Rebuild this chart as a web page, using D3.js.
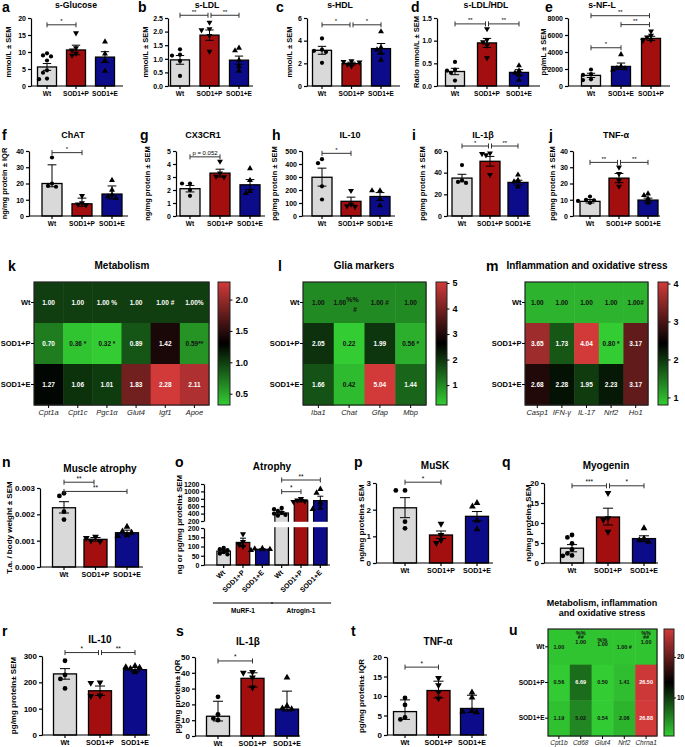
<!DOCTYPE html>
<html><head><meta charset="utf-8">
<script src="https://cdn.jsdelivr.net/npm/d3@7"></script>
<style>
body{margin:0;background:#fff}
svg text{font-family:"Liberation Sans",Arial,Helvetica,sans-serif}
</style></head><body>
<svg id="fig" width="685" height="747"></svg>
<script>
// ---------------- DATA ----------------
const groups3 = ["Wt","SOD1+P","SOD1+E"];
const groupsNfl = ["Wt","SOD1+E","SOD1+P"];
const fillColor = {"Wt":"#d9d9d9","SOD1+P":"#a30e0e","SOD1+E":"#0c0c8a"};
const symbolOf = {"Wt":"circle","SOD1+P":"down","SOD1+E":"up"};

// a s-Glucose
const glucoseMean=[5.6,10.6,8.5];
const glucoseErr=[[4.6,6.6],[9.2,12.0],[6.9,10.1]];
const glucosePts=[[9.6,9.0,8.7,7.5,4.6,3.9,2.2,2.0],[15.6,11.2,10.5,9.6,9.0],[13.0,9.5,7.5,4.4]];
const glucoseTicks=[0,5,10,15,20];
const glucoseSig=[["Wt","SOD1+P",18,"*"]];
// b s-LDL
const ldlMean=[0.96,1.87,0.95];
const ldlErr=[[0.8,1.12],[1.68,2.06],[0.8,1.1]];
const ldlPts=[[1.35,1.15,1.12,0.92,0.37],[2.34,2.1,2.06,1.85,1.27],[1.4,1.3,0.95,0.72,0.55]];
const ldlTicks=[0,0.5,1,1.5,2,2.5];
const ldlSig=[["Wt","SOD1+P",2.6,"**"],["SOD1+P","SOD1+E",2.6,"**"]];
// c s-HDL
const hdlMean=[3.15,1.98,3.3];
const hdlErr=[[2.8,3.5],[1.85,2.1],[2.85,3.75]];
const hdlPts=[[4.2,3.2,3.1,3.0,2.05],[2.2,2.15,2.1,1.9,1.75],[4.8,3.4,3.2,2.9,2.3]];
const hdlTicks=[0,2,4,6];
const hdlSig=[["Wt","SOD1+P",5.4,"*"],["SOD1+P","SOD1+E",5.4,"*"]];
// d s-LDL/HDL
const ratioMean=[0.32,0.95,0.30];
const ratioErr=[[0.25,0.39],[0.85,1.05],[0.24,0.36]];
const ratioPts=[[0.53,0.36,0.34,0.29,0.12],[1.26,1.02,0.97,0.9,0.62],[0.45,0.34,0.29,0.24,0.13]];
const ratioTicks=[0,0.5,1,1.5];
const ratioSig=[["Wt","SOD1+P",1.37,"**"],["SOD1+P","SOD1+E",1.37,"**"]];
// e s-NF-L (order Wt, SOD1+E, SOD1+P)
const nflMean=[1250,2300,5600];
const nflErr=[[1000,1500],[1950,2700],[5350,5850]];
const nflPts=[[1940,1400,1300,780,700],[3700,2300,2100,2060,1900],[6440,5940,5750,5440,5360]];
const nflTicks=[0,2000,4000,6000,8000];
const nflSig=[["Wt","SOD1+P",8270,"**"],["SOD1+E","SOD1+P",7220,"**"],["Wt","SOD1+E",4500,"*"]];
// f ChAT
const chatMean=[20,7.5,13.5];
const chatErr=[[18,31.5],[6,11],[10.5,18.5]];
const chatPts=[[36,20,18.5,18],[12.5,8,7.2,6.8],[22,16,13,12,11]];
const chatTicks=[0,10,20,30,40];
const chatSig=[["Wt","SOD1+P",39,"*"]];
// g CX3CR1
const cx3Mean=[2.1,3.3,2.4];
const cx3Err=[[1.85,2.35],[3.0,3.6],[2.05,2.8]];
const cx3Pts=[[2.5,2.5,2.0,1.55],[4.2,3.3,3.05,3.0],[3.65,2.75,1.9,1.75]];
const cx3Ticks=[0,1,2,3,4,5];
const cx3Sig=[["Wt","SOD1+P",4.55,"p = 0.052"]];
// h IL-10
const il10Mean=[298,113,150];
const il10Err=[[230,368],[85,145],[120,180]];
const il10Pts=[[437,406,228,127],[195,89,76,71],[195,195,130,80]];
const il10Ticks=[0,100,200,300,400,500];
const il10Sig=[["Wt","SOD1+P",482,"*"]];
// i IL-1b
const il1Mean=[35,50.5,31];
const il1Err=[[31.5,38.5],[46,55],[28.5,33]];
const il1Pts=[[47,33,31.5,30.5],[58,57.5,56.3,38],[38,33,31.7,27]];
const il1Ticks=[0,20,40,60];
const il1Sig=[["Wt","SOD1+P",64.6,"*"],["SOD1+P","SOD1+E",64.6,"**"]];
// j TNF-a
const tnfMean=[9,23.3,9.8];
const tnfErr=[[8,10.2],[20.5,26.2],[8.6,11]];
const tnfPts=[[12,10,9.7,9.3,8.1],[30,26,21.8,18.2],[13.7,12.7,10.7,8.1]];
const tnfTicks=[0,10,20,30,40];
const tnfSig=[["Wt","SOD1+P",33,"**"],["SOD1+P","SOD1+E",33,"**"]];
// k heatmap Metabolism
const hmRows=["Wt","SOD1+P","SOD1+E"];
const metabCols=["Cpt1a","Cpt1c","Pgc1α","Glut4","Igf1","Apoe"];
const metabVals=[[1,1,1,1,1,1],[0.70,0.36,0.32,0.89,1.42,0.59],[1.27,1.06,1.01,1.83,2.28,2.11]];
const metabMarks=[["",""," %",""," #","%"],[""," *"," *","","","**"],["","","","","",""]];
const metabTicks=[0.5,1.0,1.5,2.0];
// l heatmap Glia
const gliaCols=["Iba1","Chat","Gfap","Mbp"];
const gliaVals=[[1,1,1,1],[2.05,0.22,1.99,0.56],[1.66,0.42,5.04,1.44]];
const gliaMarks=[["",{sup:"%%",below:"#"}," #",""],["","",""," *"],["","","",""]];
const gliaTicks=[1,2,3,4,5];
// m heatmap Inflammation
const inflCols=["Casp1","IFN-γ","IL-17","Nrf2","Ho1"];
const inflVals=[[1,1,1,1,1],[3.65,1.73,4.04,0.80,3.17],[2.68,2.28,1.95,2.23,3.17]];
const inflMarks=[["","","","","#"],["","",""," *",""],["","","","",""]];
const inflTicks=[1,2,3,4];
// n Muscle atrophy
const taMean=[0.00225,0.00105,0.0013];
const taErr=[[0.00205,0.00248],[0.00098,0.00112],[0.00122,0.0014]];
const taPts=[[0.0028,0.0027,0.0021,0.0018],[0.00115,0.0011,0.001,0.00097],[0.00153,0.00135,0.0013,0.0012,0.00118]];
const taTicks=[0,0.001,0.002,0.003];
const taSig=[["Wt","SOD1+P",0.00322,"**"],["Wt","SOD1+E",0.00287,"**"]];
// o Atrophy (MuRF-1, Atrogin-1)
const murfMean=[75,122,85];
const murfErr=[[68,82],[100,145],[82,88]];
const murfPts=[[92,85,80,70,62,58],[168,125,110,100],[90,88,85,84,80]];
const atroMean=[416,748,750];
const atroErr=[[380,455],[715,780],[630,870]];
const atroPts=[[550,520,470,430,400,370,350],[800,760,740,720],[1060,960,700,550,520]];
const atroLowTicks=[0,50,100,150,200];
const atroHighTicks=[200,400,600,800,1000,1200];
const atroSig=[[0,2,1308,"**"],[0,1,992,"*"]];
// p MuSK
const muskMean=[2.07,1.05,1.75];
const muskErr=[[1.7,2.45],[0.92,1.2],[1.58,1.93]];
const muskPts=[[2.72,2.72,1.55,1.3],[1.47,1.05,0.86,0.75],[2.25,2.12,1.59,1.26]];
const muskTicks=[0,1,2,3];
const muskSig=[["Wt","SOD1+P",3.03,"*"]];
// q Myogenin
const myoMean=[3.7,11.5,6.1];
const myoErr=[[2.8,4.6],[9.5,13.7],[5.4,6.8]];
const myoPts=[[7.0,6.4,4.9,3.4,2.4,1.9,1.8],[17.5,11.2,10.8,7.8],[8.7,6.1,5.7,5.3]];
const myoTicks=[0,5,10,15,20];
const myoSig=[["Wt","SOD1+P",19.3,"***"],["SOD1+P","SOD1+E",19.3,"*"]];
// r IL-10 muscle
const mil10Mean=[232,168,248];
const mil10Err=[[212,252],[150,186],[240,256]];
const mil10Pts=[[282,228,213,177],[200,198,150,148],[262,258,256,252,238]];
const mil10Ticks=[0,100,200,300];
const mil10Sig=[["Wt","SOD1+P",313,"*"],["SOD1+P","SOD1+E",313,"**"]];
// s IL-1b muscle
const mil1Mean=[12.5,36.5,17];
const mil1Err=[[9.5,22],[31,40],[15.8,28.4]];
const mil1Pts=[[24.8,13.7,11.1,10],[40.5,40,37,30.7],[37,19,17.5,17]];
const mil1Ticks=[0,10,20,30,40,50];
const mil1Sig=[["Wt","SOD1+P",47.5,"*"]];
// t TNF-a muscle
const mtnfMean=[6.0,11.4,6.8];
const mtnfErr=[[4.0,9.0],[9.5,13.8],[5.8,10.2]];
const mtnfPts=[[9.5,7.7,4.5,4.0],[14.6,12.8,11,9.4],[10.9,9.6,6.2,6.0,5.8]];
const mtnfTicks=[0,5,10,15,20];
const mtnfSig=[["Wt","SOD1+P",17.4,"*"]];
// u heatmap
const muscCols=["Cpt1b","Cd68","Glut4","Nrf2","Chrna1"];
const muscVals=[[1,1,1,1,1],[0.56,6.69,0.50,1.41,26.50],[1.19,5.02,0.54,2.06,26.88]];
const muscMarks=[["",{above:["%%","##"]},{above:["%%"]}," #",{above:["%%","##"]}],["","","","",""],["","","","",""]];
const muscTicks=[10,20];

// ---------------- DRAWING ----------------
const svg=d3.select("#fig");
function txt(g,x,y,s,o={}){
  return g.append("text").attr("x",x).attr("y",y).text(s)
    .attr("font-size",o.size||8).attr("font-weight",o.weight||"bold")
    .attr("text-anchor",o.anchor||"middle").attr("fill",o.fill||"#000")
    .attr("font-style",o.style||"normal");
}
function sym(g,kind,x,y,size){
  const t=kind==="circle"?d3.symbolCircle:d3.symbolTriangle;
  g.append("path").attr("d",d3.symbol().type(t).size(kind==="circle"?size:size*1.1)())
   .attr("transform",`translate(${x},${y})${kind==="down"?" rotate(180)":""}`).attr("fill","#000");
}
function dodge(vals,y,cx,sp){
  const placed=[];
  return vals.map(v=>{
    const py=y(v);let dx=0;
    for(const c of [0,-sp,sp,-2*sp,2*sp,-3*sp,3*sp]){
      if(placed.every(p=>Math.hypot(p[0]-c,p[1]-py)>=sp*1.05)){dx=c;break;}
    }
    placed.push([dx,py]);return [cx+dx,py];
  });
}
function styleAxis(ax,fs){
  ax.select(".domain").attr("stroke","#000").attr("stroke-width",1.2);
  ax.selectAll(".tick line").attr("stroke","#000").attr("stroke-width",1.2);
  ax.selectAll("text").attr("font-size",fs).attr("font-weight","bold").attr("fill","#000")
    .attr("font-family","'Liberation Sans',Arial,sans-serif");
}
function errBar(g,cx,y1,y2,cap){
  g.append("path").attr("d",`M${cx},${y1}V${y2}M${cx-cap},${y1}H${cx+cap}M${cx-cap},${y2}H${cx+cap}`)
   .attr("stroke","#000").attr("stroke-width",1).attr("fill","none");
}
function bracket(g,xa,xb,yy,lab,fs){
  g.append("path").attr("d",`M${xa},${yy-2.5}V${yy+2.5}M${xa},${yy}H${xb}M${xb},${yy-2.5}V${yy+2.5}`)
   .attr("stroke","#333").attr("stroke-width",1).attr("fill","none");
  txt(g,(xa+xb)/2,yy-1.5,lab,{size:fs,weight:"normal"});
}

function barPanel(L,D){
  const g=svg.append("g");
  const fs=L.fs||7;
  const y=d3.scaleLinear().domain([0,D.ticks[D.ticks.length-1]]).range([L.bot,L.top]);
  const step=(L.c[1]-L.c[0])/(D.groups.length-1);
  const p=1-L.bw/step;
  const x=d3.scaleBand().domain(D.groups).range([L.c[0]-step/2,L.c[1]+step/2]).paddingInner(p).paddingOuter(p/2);
  const cx=k=>x(k)+x.bandwidth()/2;
  D.groups.forEach((k,i)=>{
    g.append("rect").attr("x",x(k)).attr("y",y(D.mean[i])).attr("width",x.bandwidth())
     .attr("height",L.bot-y(D.mean[i])).attr("fill",fillColor[k]).attr("stroke","#000").attr("stroke-width",1.3);
  });
  D.groups.forEach((k,i)=>{
    errBar(g,cx(k),y(D.err[i][0]),y(D.err[i][1]),L.bw*0.22);
    dodge(D.pts[i],y,cx(k),L.ps||4).forEach(([px,py])=>sym(g,symbolOf[k],px,py,L.ss||14));
  });
  const ax=g.append("g").attr("transform",`translate(${L.ax},0)`)
    .call(d3.axisLeft(y).tickValues(D.ticks).tickSize(3).tickSizeOuter(0).tickPadding(2).tickFormat(d3.format(D.fmt||"d")));
  styleAxis(ax,fs);
  g.append("line").attr("x1",L.ax).attr("x2",L.end).attr("y1",L.bot).attr("y2",L.bot).attr("stroke","#000").attr("stroke-width",1.2);
  D.groups.forEach(k=>{
    g.append("line").attr("x1",cx(k)).attr("x2",cx(k)).attr("y1",L.bot).attr("y2",L.bot+3).attr("stroke","#000").attr("stroke-width",1.2);
    txt(g,cx(k),L.bot+10,k,{size:L.xfs||6.5});
  });
  D.sig.forEach(([a,b,v,lab])=>{
    const xa=cx(a)+(a==="SOD1+P"&&D.groups.indexOf(b)>D.groups.indexOf(a)?1.5:0);
    const xb=cx(b)-(b==="SOD1+P"&&D.groups.indexOf(a)<D.groups.indexOf(b)&&D.sig.length>1?1.5:0);
    bracket(g,xa,xb,y(v),lab,L.sfs||6);
  });
  txt(g,L.ylx,(L.top+L.bot)/2,D.ylab,{size:L.yfs||7.5}).attr("transform",`rotate(-90,${L.ylx},${(L.top+L.bot)/2})`);
  txt(g,L.tx,L.ty,D.title,{size:L.tfs||9});
  txt(g,L.lx,L.ly,D.letter,{size:14,anchor:"start"});
}

const R1={top:18,bot:86,bw:19,ty:7.5,ly:12,tfs:8.7};
const R2={top:151,bot:216,bw:20,ty:138,ly:140};
const R4={top:488,bot:567,bw:23,ty:472,ly:467,fs:8,xfs:7,yfs:8,tfs:10,ss:18,ps:4.6,sfs:6.5};
const R5={top:656,bot:735,bw:23,ty:643,ly:636,fs:8,xfs:7,yfs:8,tfs:10,ss:18,ps:4.6,sfs:6.5};
function mk(base,o){return Object.assign({},base,o);}
function dat(groups,mean,err,pts,ticks,sig,title,ylab,letter,fmt){return {groups,mean,err,pts,ticks,sig,title,ylab,letter,fmt};}

barPanel(mk(R1,{ax:31,end:123,c:[47,105],tx:76,lx:2,ylx:11}),dat(groups3,glucoseMean,glucoseErr,glucosePts,glucoseTicks,glucoseSig,"s-Glucose","mmol/L ± SEM","a"));
barPanel(mk(R1,{ax:168,end:253,c:[180,239],tx:207,lx:138,ylx:148}),dat(groups3,ldlMean,ldlErr,ldlPts,ldlTicks,ldlSig,"s-LDL","mmol/L ± SEM","b",".1f"));
barPanel(mk(R1,{ax:307,end:400,c:[322,381],tx:340,lx:276,ylx:292}),dat(groups3,hdlMean,hdlErr,hdlPts,hdlTicks,hdlSig,"s-HDL","mmol/L ± SEM","c"));
barPanel(mk(R1,{ax:437,end:540,c:[455,519],tx:486,lx:411,ylx:419}),dat(groups3,ratioMean,ratioErr,ratioPts,ratioTicks,ratioSig,"s-LDL/HDL","Ratio mmol/L ± SEM","d",".1f"));
barPanel(mk(R1,{ax:568,end:670,c:[591,651],tx:602,lx:545,ylx:546}),dat(groupsNfl,nflMean,nflErr,nflPts,nflTicks,nflSig,"s-NF-L","pg/mL ± SEM","e"));

barPanel(mk(R2,{ax:29,end:128,c:[52,112],tx:73,lx:2,ylx:7}),dat(groups3,chatMean,chatErr,chatPts,chatTicks,chatSig,"ChAT","ng/mg protein ± IQR","f"));
barPanel(mk(R2,{ax:176,end:265,c:[190,250],tx:203,lx:140,ylx:150}),dat(groups3,cx3Mean,cx3Err,cx3Pts,cx3Ticks,cx3Sig,"CX3CR1","ng/mg protein ± SEM","g"));
barPanel(mk(R2,{ax:302,end:395,c:[322,380],tx:350,lx:272,ylx:277}),dat(groups3,il10Mean,il10Err,il10Pts,il10Ticks,il10Sig,"IL-10","pg/mg protein ± SEM","h"));
barPanel(mk(R2,{ax:447,end:530,c:[462,518],tx:483,lx:412,ylx:425}),dat(groups3,il1Mean,il1Err,il1Pts,il1Ticks,il1Sig,"IL-1β","pg/mg protein ± SEM","i"));
barPanel(mk(R2,{ax:573,end:660,c:[590,648],tx:616,lx:549,ylx:555}),dat(groups3,tnfMean,tnfErr,tnfPts,tnfTicks,tnfSig,"TNF-α","pg/mg protein ± SEM","j"));

barPanel(mk(R4,{ax:40,end:143,c:[64,127],tx:100,lx:2,ylx:12}),dat(groups3,taMean,taErr,taPts,taTicks,taSig,"Muscle atrophy","T.a. / body weight ± SEM","n",".3f"));
barPanel(mk(R4,{top:483,bot:563,ax:376,end:493,c:[405,477],tx:435,ty:469,lx:354,ylx:364}),dat(groups3,muskMean,muskErr,muskPts,muskTicks,muskSig,"MuSK","ng/mg protein± SEM","p"));
barPanel(mk(R4,{top:483,bot:563,ax:544,end:658,c:[572,644],tx:606,ty:469,lx:502,ylx:531}),dat(groups3,myoMean,myoErr,myoPts,myoTicks,myoSig,"Myogenin","ng/mg protein± SEM","q"));

barPanel(mk(R5,{ax:42,end:150,c:[65,135],tx:100,lx:2,ylx:16}),dat(groups3,mil10Mean,mil10Err,mil10Pts,mil10Ticks,mil10Sig,"IL-10","pg/mg protein± SEM","r"));
barPanel(mk(R5,{top:657,bot:736,ax:195,end:300,c:[218,287],tx:248,ty:645,lx:176,ylx:180}),dat(groups3,mil1Mean,mil1Err,mil1Pts,mil1Ticks,mil1Sig,"IL-1β","pg/mg protein± IQR","s"));
barPanel(mk(R5,{top:657,ax:387,end:487,c:[405,472],tx:438,ty:645,lx:351,ylx:364}),dat(groups3,mtnfMean,mtnfErr,mtnfPts,mtnfTicks,mtnfSig,"TNF-α","pg/mg protein± IQR","t"));

// ---- o: broken axis atrophy panel
(function(){
  const g=svg.append("g");
  const L={ax:204,bot:565,lowTop:528,highBot:521,top:484};
  const yLow=d3.scaleLinear().domain([0,200]).range([L.bot,L.lowTop]);
  const yHigh=d3.scaleLinear().domain([200,1200]).range([L.highBot,L.top]);
  const yv=v=>v<=200?yLow(v):yHigh(v);
  const cats=["m0","m1","m2","a0","a1","a2"];
  const x=d3.scaleBand().domain(cats).range([214,330]).paddingInner(0.3).paddingOuter(0.15);
  const cx=k=>x(k)+x.bandwidth()/2;
  const means=murfMean.concat(atroMean), errs=murfErr.concat(atroErr), pts=murfPts.concat(atroPts);
  cats.forEach((k,i)=>{
    const grp=groups3[i%3];
    g.append("rect").attr("x",x(k)).attr("y",yv(means[i])).attr("width",x.bandwidth())
      .attr("height",L.bot-yv(means[i])).attr("fill",fillColor[grp]).attr("stroke","#000").attr("stroke-width",1.2);
  });
  g.append("rect").attr("x",L.ax+1).attr("y",L.highBot+0.8).attr("width",130).attr("height",L.lowTop-L.highBot-1.6).attr("fill","#fff");
  cats.forEach((k,i)=>{
    const grp=groups3[i%3];
    errBar(g,cx(k),yv(errs[i][0]),yv(errs[i][1]),3);
    dodge(pts[i],yv,cx(k),3.8).forEach(([px,py])=>sym(g,symbolOf[grp],px,py,15));
  });
  const a1=g.append("g").attr("transform",`translate(${L.ax},0)`).call(d3.axisLeft(yLow).tickValues(atroLowTicks).tickSize(3).tickSizeOuter(0).tickPadding(1.5).tickFormat(d3.format("d")));
  const a2=g.append("g").attr("transform",`translate(${L.ax},0)`).call(d3.axisLeft(yHigh).tickValues(atroHighTicks).tickSize(3).tickSizeOuter(0).tickPadding(1.5).tickFormat(d3.format("d")));
  styleAxis(a1,7);styleAxis(a2,7);
  g.append("line").attr("x1",L.ax).attr("x2",330).attr("y1",L.bot).attr("y2",L.bot).attr("stroke","#000").attr("stroke-width",1.2);
  cats.forEach((k,i)=>{
    g.append("line").attr("x1",cx(k)).attr("x2",cx(k)).attr("y1",L.bot).attr("y2",L.bot+3).attr("stroke","#000").attr("stroke-width",1.2);
    txt(g,cx(k)+2,L.bot+8,groups3[i%3],{size:7,anchor:"end"}).attr("transform",`rotate(-45,${cx(k)+2},${L.bot+8})`);
  });
  atroSig.forEach(([a,b,v,lab])=>bracket(g,cx(cats[3+a]),cx(cats[3+b]),yHigh(v),lab,6.5));
  [["MuRF-1",0,2],["Atrogin-1",3,5]].forEach(([lab,i0,i1])=>{
    const xa=x(cats[i0])-4, xb=x(cats[i1])+x.bandwidth()+4;
    g.append("line").attr("x1",xa).attr("x2",xb).attr("y1",603).attr("y2",603).attr("stroke","#000").attr("stroke-width",1.2);
    txt(g,(xa+xb)/2,613,lab,{size:6.5});
  });
  txt(g,182,(L.top+L.bot)/2,"ng or pg/mg protein± SEM",{size:8}).attr("transform",`rotate(-90,182,${(L.top+L.bot)/2})`);
  txt(g,272,470,"Atrophy",{size:10});
  txt(g,175,467,"o",{size:14,anchor:"start"});
})();

// ---- heatmaps
function heatmap(L,cols,vals,marks,ticks,fmt){
  const g=svg.append("g");
  const flat=vals.flat(), mn=d3.min(flat), mx=d3.max(flat), mid=(mn+mx)/2;
  const color=d3.scaleLinear().domain([mn,mid,mx]).range(["#33cc33","#000000","#d23a3a"]);
  const x=d3.scaleBand().domain(cols).range([L.x0,L.x1]);
  const y=d3.scaleBand().domain(hmRows).range([L.y0,L.y1]);
  hmRows.forEach((r,i)=>cols.forEach((c,j)=>{
    const v=vals[i][j], col=d3.rgb(color(v));
    g.append("rect").attr("x",x(c)).attr("y",y(r)).attr("width",x.bandwidth()+0.5).attr("height",y.bandwidth()+0.5).attr("fill",col);
    const tc=(col.g>128&&col.r<100)?"#111":"#fff";
    const cxp=x(c)+x.bandwidth()/2, cyp=y(r)+y.bandwidth()/2+L.fs*0.35;
    const m=marks[i][j], val=v.toFixed(2);
    if(typeof m==="string"){txt(g,cxp,cyp,val+m,{size:L.fs,fill:tc});}
    else if(m.sup){
      const t=txt(g,cxp-3,cyp,val,{size:L.fs,fill:tc});
      t.append("tspan").attr("dy",-2.5).attr("font-size",L.fs+0.5).text(m.sup);
      txt(g,cxp+6,cyp+7.5,m.below,{size:L.fs,fill:tc});
    } else if(m.above){
      const n=m.above.length, base=cyp-n*2.5;
      txt(g,cxp,base,val,{size:L.fs,fill:tc});
      m.above.slice().reverse().forEach((s,k)=>txt(g,cxp,base-(k+1)*4.6,s,{size:L.fs,fill:tc}));
    }
  }));
  g.append("rect").attr("x",L.x0).attr("y",L.y0).attr("width",L.x1-L.x0).attr("height",L.y1-L.y0).attr("fill","none").attr("stroke","#222").attr("stroke-width",1.2);
  hmRows.forEach(r=>{
    const yy=y(r)+y.bandwidth()/2;
    g.append("line").attr("x1",L.x0-3).attr("x2",L.x0).attr("y1",yy).attr("y2",yy).attr("stroke","#000");
    txt(g,L.x0-3.5,yy+L.rfs*0.35,r,{size:L.rfs,anchor:"end"});
  });
  cols.forEach(c=>{
    const xx=x(c)+x.bandwidth()/2;
    g.append("line").attr("x1",xx).attr("x2",xx).attr("y1",L.y1).attr("y2",L.y1+3).attr("stroke","#000");
    txt(g,xx,L.y1+L.cfs+2.5,c,{size:L.cfs,weight:"normal",style:"italic",fill:"#222"});
  });
  // colorbar
  const id="grad"+L.id;
  const gr=svg.append("defs").append("linearGradient").attr("id",id).attr("x1",0).attr("x2",0).attr("y1",1).attr("y2",0);
  d3.range(0,1.0001,0.05).forEach(t=>gr.append("stop").attr("offset",t).attr("stop-color",color(mn+t*(mx-mn))));
  g.append("rect").attr("x",L.cb).attr("y",L.y0).attr("width",L.cbw).attr("height",L.y1-L.y0).attr("fill",`url(#${id})`).attr("stroke","#222").attr("stroke-width",1);
  const cy=d3.scaleLinear().domain([mn,mx]).range([L.y1,L.y0]);
  const ax=g.append("g").attr("transform",`translate(${L.cb+L.cbw},0)`).call(d3.axisRight(cy).tickValues(ticks).tickSize(L.cts||2.5).tickPadding(L.ctp||3).tickFormat(d3.format(fmt)));
  ax.select(".domain").remove();
  ax.selectAll(".tick line").attr("stroke","#000");
  ax.selectAll("text").attr("font-size",L.tfs).attr("font-weight","bold").attr("fill","#000");
  return g;
}
const hk=heatmap({id:"k",x0:34,x1:209,y0:282,y1:405,cb:218,cbw:12,fs:6.5,rfs:7.5,cfs:7.5,tfs:9},metabCols,metabVals,metabMarks,metabTicks,".1f");
txt(hk,122,269,"Metabolism",{size:10});txt(hk,8,271,"k",{size:14,anchor:"start"});
const hl=heatmap({id:"l",x0:303,x1:426,y0:282,y1:405,cb:436,cbw:11,fs:6.5,rfs:7.5,cfs:7.5,tfs:9},gliaCols,gliaVals,gliaMarks,gliaTicks,"d");
txt(hl,364,269,"Glia markers",{size:10});txt(hl,278,271,"l",{size:14,anchor:"start"});
const hm=heatmap({id:"m",x0:525,x1:648,y0:282,y1:405,cb:658,cbw:10,fs:6.5,rfs:7.5,cfs:7.5,tfs:9},inflCols,inflVals,inflMarks,inflTicks,"d");
txt(hm,587,269,"Inflammation and oxidative stress",{size:10});txt(hm,486,271,"m",{size:14,anchor:"start"});
const hu=heatmap({id:"u",x0:548,x1:657,y0:629,y1:736,cb:664,cbw:10,fs:5.5,rfs:6.5,cfs:6.5,tfs:6.5,cts:2,ctp:1},muscCols,muscVals,muscMarks,muscTicks,"d");
txt(hu,602,606,"Metabolism, inflammation",{size:9});txt(hu,602,616,"and oxidative stress",{size:9});
txt(hu,509,635,"u",{size:14,anchor:"start"});
</script>
</body></html>
